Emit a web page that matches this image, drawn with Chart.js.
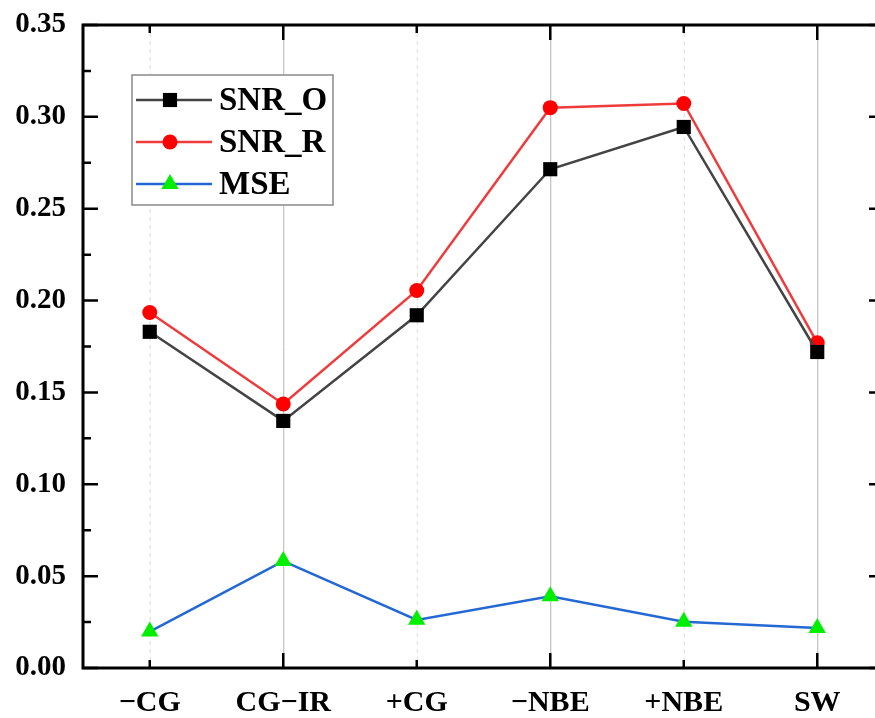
<!DOCTYPE html>
<html>
<head>
<meta charset="utf-8">
<script src="https://cdn.jsdelivr.net/npm/chart.js@4.4.1/dist/chart.umd.min.js"></script>
<style>
  html, body { margin: 0; padding: 0; overflow: hidden; background: #fff; }
  #clip { width: 875px; height: 718px; overflow: hidden; position: relative; }
  #wrap { width: 900px; height: 718px; position: absolute; left: 0; top: 0; }
</style>
</head>
<body>
<div id="clip"><div id="wrap"><canvas id="c"></canvas></div></div>
<script>
// Categories and series values
const categories = ['\u2212CG', 'CG\u2212IR', '+CG', '\u2212NBE', '+NBE', 'SW'];
const snrO = [0.183, 0.1345, 0.192, 0.2715, 0.2945, 0.172];
const snrR = [0.1935, 0.1437, 0.2055, 0.305, 0.3073, 0.177];
const mse  = [0.0198, 0.0582, 0.0262, 0.039, 0.0252, 0.0218];

// Y axis range and tick spacing
const yMin = 0;
const yMax = 0.35;
const yStep = 0.05;

const FONT = '"Liberation Serif", "Times New Roman", serif';

// Grid lines, frame and inward tick marks on all four sides
const framePlugin = {
  id: 'frame',
  beforeDatasetsDraw(chart) {
    const { ctx, chartArea: a, scales: { x } } = chart;
    ctx.save();
    categories.forEach((c, i) => {
      const px = x.getPixelForValue(i);
      ctx.beginPath();
      if (i % 2 === 1) {
        ctx.strokeStyle = '#b4b4b4';
        ctx.setLineDash([]);
      } else {
        ctx.strokeStyle = '#dcdcdc';
        ctx.setLineDash([4, 4]);
      }
      ctx.lineWidth = 1;
      ctx.moveTo(px + 0.5, a.top);
      ctx.lineTo(px + 0.5, a.bottom);
      ctx.stroke();
    });
    ctx.restore();
  },
  afterDatasetsDraw(chart) {
    const { ctx, chartArea: a, scales: { x, y } } = chart;
    ctx.save();
    ctx.strokeStyle = '#000';
    ctx.lineWidth = 3;
    ctx.setLineDash([]);
    ctx.beginPath();
    ctx.moveTo(a.right + 2, a.top);
    ctx.lineTo(a.left, a.top);
    ctx.lineTo(a.left, a.bottom);
    ctx.lineTo(a.right + 2, a.bottom);
    ctx.stroke();
    ctx.lineWidth = 2.5;
    const major = 15, minor = 8;
    // y ticks (left and right)
    for (let v = yMin; v <= yMax + 1e-9; v += yStep / 2) {
      const isMajor = Math.abs(Math.round(v / yStep) * yStep - v) < 1e-9;
      const len = isMajor ? major : minor;
      const py = y.getPixelForValue(v);
      ctx.beginPath();
      ctx.moveTo(a.left, py); ctx.lineTo(a.left + len, py);
      ctx.moveTo(a.right, py); ctx.lineTo(a.right - len, py);
      ctx.stroke();
    }
    // x ticks (bottom and top)
    categories.forEach((c, i) => {
      const px = x.getPixelForValue(i);
      const len = i % 2 === 1 ? major : minor;
      ctx.beginPath();
      ctx.moveTo(px, a.bottom); ctx.lineTo(px, a.bottom - len);
      ctx.moveTo(px, a.top); ctx.lineTo(px, a.top + len);
      ctx.stroke();
    });
    ctx.restore();
  }
};

// Boxed legend in the upper left of the plot
const boxLegend = {
  id: 'boxLegend',
  afterDraw(chart) {
    const { ctx } = chart;
    const bx = 132, by = 75, bw = 201, bh = 130;
    ctx.save();
    ctx.fillStyle = '#fff';
    ctx.fillRect(bx, by, bw, bh);
    ctx.strokeStyle = '#8a8a8a';
    ctx.lineWidth = 1.5;
    ctx.strokeRect(bx, by, bw, bh);
    const rows = [100, 142, 184];
    chart.data.datasets.forEach((ds, i) => {
      const yy = rows[i];
      ctx.strokeStyle = ds.borderColor;
      ctx.lineWidth = ds.borderWidth;
      ctx.beginPath();
      ctx.moveTo(136, yy); ctx.lineTo(212, yy);
      ctx.stroke();
      ctx.fillStyle = ds.pointBackgroundColor;
      Chart.helpers.drawPoint(ctx, {
        pointStyle: ds.pointStyle, radius: ds.pointRadius, rotation: 0, borderWidth: 0
      }, 170, yy);
      ctx.fillStyle = '#000';
      ctx.font = 'bold 33px ' + FONT;
      ctx.textBaseline = 'middle';
      ctx.textAlign = 'left';
      ctx.fillText(ds.label, 219, yy + 1);
    });
    ctx.restore();
  }
};

new Chart(document.getElementById('c'), {
  type: 'line',
  data: {
    labels: categories,
    datasets: [
      {
        label: 'SNR_O', data: snrO,
        borderColor: '#444444', borderWidth: 2.5,
        pointStyle: 'rect', pointRadius: 10,
        pointBackgroundColor: '#000', pointBorderColor: '#000', pointBorderWidth: 0
      },
      {
        label: 'SNR_R', data: snrR,
        borderColor: '#ef3b3b', borderWidth: 2.5,
        pointStyle: 'circle', pointRadius: 7.5,
        pointBackgroundColor: '#ff0000', pointBorderColor: '#ff0000', pointBorderWidth: 0
      },
      {
        label: 'MSE', data: mse,
        borderColor: '#2468d4', borderWidth: 2.5,
        pointStyle: 'triangle', pointRadius: 10,
        pointBackgroundColor: '#00ee00', pointBorderColor: '#00ee00', pointBorderWidth: 0
      }
    ]
  },
  options: {
    responsive: true,
    maintainAspectRatio: false,
    animation: false,
    // the canvas is wider than the visible area, so the right frame edge falls outside it
    layout: { padding: { top: 25, right: 16, left: 0, bottom: 0 } },
    plugins: { legend: { display: false }, tooltip: { enabled: false } },
    elements: { line: { tension: 0 } },
    scales: {
      x: {
        type: 'category',
        offset: true,
        grid: { display: false, drawTicks: false },
        border: { display: false },
        ticks: {
          color: '#000', padding: 17, maxRotation: 0,
          font: { family: FONT, size: 30, weight: 'bold' }
        },
        afterFit(s) {
          s.height = 50;
          s.paddingLeft = 0; s.paddingRight = 0;
        }
      },
      y: {
        min: yMin, max: yMax,
        grid: { display: false, drawTicks: false },
        border: { display: false },
        ticks: {
          stepSize: yStep, color: '#000', padding: 17,
          font: { family: FONT, size: 29, weight: 'bold' },
          callback: v => Number(v).toFixed(2)
        },
        afterFit(s) {
          s.width = 83;
          s.paddingTop = 0; s.paddingBottom = 0;
        }
      }
    }
  },
  plugins: [framePlugin, boxLegend]
});
</script>
</body>
</html>
